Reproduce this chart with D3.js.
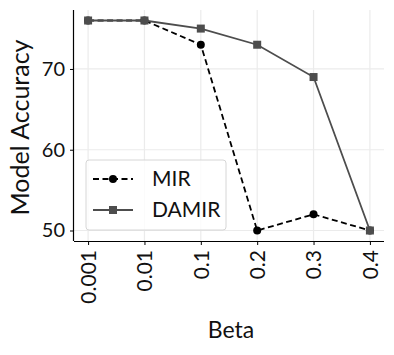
<!DOCTYPE html>
<html>
<head>
<meta charset="utf-8">
<script src="https://cdn.jsdelivr.net/npm/d3@7"></script>
<style>
  body { margin: 0; background: #fff; }
  text { font-family: Lato, "Open Sans", sans-serif; fill: #111; }
</style>
</head>
<body>
<svg width="394" height="355"></svg>
<script>
var betas = ["0.001", "0.01", "0.1", "0.2", "0.3", "0.4"];
var mir = [76, 76, 73, 50, 52, 50];
var damir = [76, 76, 75, 73, 69, 50];
var yTicks = [50, 60, 70];

var svg = d3.select("svg");
var margin = {left: 74, top: 10, right: 10, bottom: 114};
var width = 394 - margin.left - margin.right,
    height = 355 - margin.top - margin.bottom;

var g = svg.append("g").attr("transform", "translate(" + margin.left + "," + margin.top + ")");

// scales (matplotlib-like padding)
var x = d3.scaleLinear().domain([-0.25, betas.length - 0.75]).range([0, width]);
var y = d3.scaleLinear().domain([48.7, 77.3]).range([height, 0]);

// grid
g.append("g").selectAll("line").data(d3.range(betas.length)).enter().append("line")
    .attr("x1", d => x(d)).attr("x2", d => x(d))
    .attr("y1", 0).attr("y2", height)
    .attr("stroke", "#ebebeb").attr("stroke-width", 1.2);
g.append("g").selectAll("line").data(yTicks).enter().append("line")
    .attr("x1", 0).attr("x2", width)
    .attr("y1", d => y(d)).attr("y2", d => y(d))
    .attr("stroke", "#ebebeb").attr("stroke-width", 1.2);

// axes
var xAxis = g.append("g").attr("transform", "translate(0," + height + ")")
    .call(d3.axisBottom(x).tickValues(d3.range(betas.length)).tickFormat(i => betas[i]).tickSize(4).tickPadding(6));
xAxis.selectAll("text")
    .attr("transform", "rotate(-90)")
    .attr("text-anchor", "end")
    .attr("dy", "0.35em")
    .attr("x", -9).attr("y", 0)
    .style("font-size", "21px");

var yAxis = g.append("g")
    .call(d3.axisLeft(y).tickValues(yTicks).tickSize(4).tickPadding(5));
yAxis.selectAll("text").style("font-size", "20px");

svg.selectAll(".domain").attr("stroke", "#000").attr("stroke-width", 1.2);
svg.selectAll(".tick line").attr("stroke", "#000").attr("stroke-width", 1);
xAxis.select(".domain").attr("d", "M0,0.5H" + width);
yAxis.select(".domain").attr("d", "M-0.5,0V" + height);

// labels
svg.append("text")
    .attr("transform", "translate(29," + (margin.top + height / 2 + 2) + ") rotate(-90)")
    .attr("text-anchor", "middle")
    .style("font-size", "25px")
    .text("Model Accuracy");
svg.append("text")
    .attr("x", margin.left + width / 2 + 2).attr("y", 338)
    .attr("text-anchor", "middle")
    .style("font-size", "23px")
    .text("Beta");

// lines: MIR first, DAMIR drawn on top
var line = d3.line().x((d, i) => x(i)).y(d => y(d));

g.append("path").datum(mir)
    .attr("d", line).attr("fill", "none")
    .attr("stroke", "#000").attr("stroke-width", 1.8)
    .attr("stroke-dasharray", "6,3.5");
g.selectAll(".dot").data(mir).enter().append("circle")
    .attr("cx", (d, i) => x(i)).attr("cy", d => y(d))
    .attr("r", 4).attr("fill", "#000");

g.append("path").datum(damir)
    .attr("d", line).attr("fill", "none")
    .attr("stroke", "#4d4d4d").attr("stroke-width", 1.8);
g.selectAll(".sq").data(damir).enter().append("rect")
    .attr("x", (d, i) => x(i) - 4).attr("y", d => y(d) - 4)
    .attr("width", 8).attr("height", 8).attr("fill", "#4d4d4d");

// legend
var lg = svg.append("g").attr("transform", "translate(86,160)");
lg.append("rect")
    .attr("width", 140).attr("height", 70).attr("rx", 3)
    .attr("fill", "rgba(255,255,255,0.8)").attr("stroke", "#d6d6d6");
var items = [
  {name: "MIR", color: "#000", dash: "6,3.5", shape: "circle"},
  {name: "DAMIR", color: "#4d4d4d", dash: null, shape: "square"}
];
items.forEach(function (it, i) {
  var yy = 19 + i * 31;
  lg.append("line").attr("x1", 7).attr("x2", 47).attr("y1", yy).attr("y2", yy)
    .attr("stroke", it.color).attr("stroke-width", 1.8)
    .attr("stroke-dasharray", it.dash);
  if (it.shape === "circle") {
    lg.append("circle").attr("cx", 27).attr("cy", yy).attr("r", 4).attr("fill", it.color);
  } else {
    lg.append("rect").attr("x", 23).attr("y", yy - 4).attr("width", 8).attr("height", 8).attr("fill", it.color);
  }
  lg.append("text").attr("x", 66).attr("y", yy).attr("dy", "0.35em")
    .style("font-size", "21px").text(it.name);
});
</script>
</body>
</html>
